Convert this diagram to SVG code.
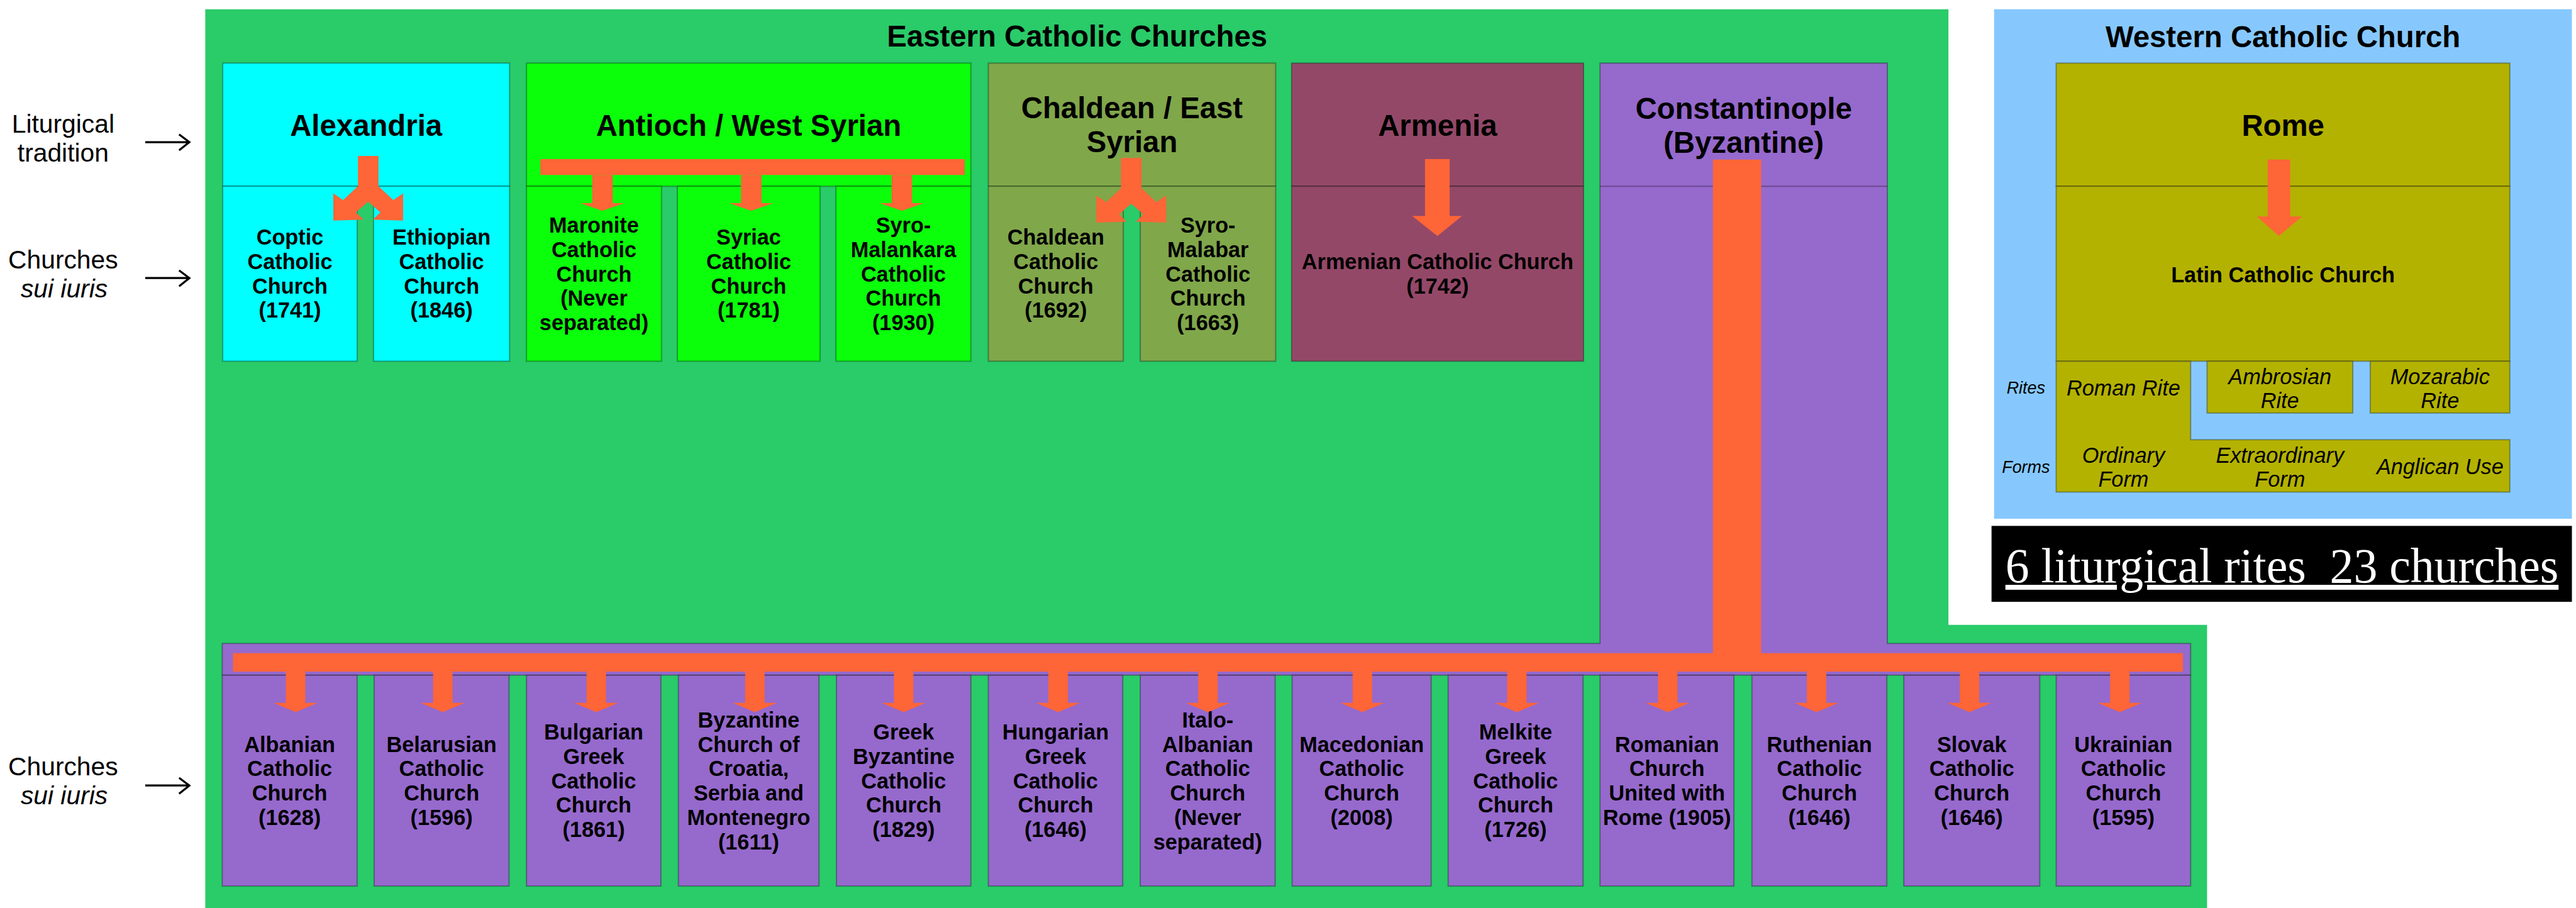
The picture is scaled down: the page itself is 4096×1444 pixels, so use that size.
<svg xmlns="http://www.w3.org/2000/svg" width="4096" height="1444" viewBox="0 0 4096 1444">
<style>
.t{font-family:"Liberation Sans",Arial,sans-serif;font-weight:bold;text-anchor:middle;fill:#000}
.h{font-size:58px}
.c{font-size:42px}
.i{font-family:"Liberation Sans",Arial,sans-serif;font-style:italic;text-anchor:middle;font-size:42px;fill:#000}
.s{font-size:33px}
.lab{font-family:"Liberation Sans",Arial,sans-serif;font-size:50px;text-anchor:middle;fill:#000}
.bx{stroke:#000;stroke-opacity:.3;stroke-width:2.5}
.alex{fill:#00FFFF}.ant{fill:#0BFF0B}.chal{fill:#80A74A}.arm{fill:#944868}.byz{fill:#9669CD}.rome{fill:#B4B200}
.or{fill:#FE6537}
.la{fill:none;stroke:#000;stroke-width:4}
</style>
<defs>
<path id="fork" d="M-20,0 H20 V59 L49,86 L68,73 V126 L9,124 L24,110 L0,89 L-24,110 L-9,124 L-68,126 V73 L-49,86 L-20,59 Z"/>
<path id="dnA" d="M-20,0 H20 V55 H43 L0,70 L-43,55 H-20 Z"/>
<path id="dnB" d="M-19,0 H19 V61 H43 L0,79 L-43,61 H-19 Z"/>
</defs>
<rect width="4096" height="1444" fill="#fff"/>
<g transform="scale(0.81594)">
<g id="eastern">
<path d="M400,18 H3797 V1218 H4301 V1770 H400 Z" fill="#2ACB69"/>
<text class="t h" x="2099" y="91">Eastern Catholic Churches</text>
</g>
<g id="western">
<rect x="3886" y="18" width="1126" height="993" fill="#86C8FE"/>
<text class="t h" x="4449" y="92">Western Catholic Church</text>
<text class="i s" x="3948" y="767">Rites</text>
<text class="i s" x="3948" y="922">Forms</text>
</g>
<g id="legend">
<text class="lab" x="123" y="259">Liturgical</text>
<text class="lab" x="123" y="315">tradition</text>
<path class="la" d="M283,277 H368 M349,262 L369,277 L349,293"/>
<text class="lab" x="123" y="523">Churches</text>
<text class="lab" x="125" y="580" font-style="italic">sui iuris</text>
<path class="la" d="M283,542 H368 M349,527 L369,542 L349,558"/>
<text class="lab" x="123" y="1511">Churches</text>
<text class="lab" x="125" y="1568" font-style="italic">sui iuris</text>
<path class="la" d="M283,1531 H368 M349,1516 L369,1531 L349,1547"/>
</g>
<g id="alexandria">
<rect class="bx alex" x="434" y="123" width="559" height="240"/>
<text class="t h" x="713.5" y="265">Alexandria</text>
</g>
<g id="coptic">
<rect class="bx alex" x="434" y="363" width="262" height="341"/>
<text class="t c" x="565" y="477"><tspan x="565">Coptic</tspan><tspan x="565" dy="47.5">Catholic</tspan><tspan x="565" dy="47.5">Church</tspan><tspan x="565" dy="47.5">(1741)</tspan></text>
</g>
<g id="ethiopian">
<rect class="bx alex" x="728" y="363" width="265" height="341"/>
<text class="t c" x="860.5" y="477"><tspan x="860.5">Ethiopian</tspan><tspan x="860.5" dy="47.5">Catholic</tspan><tspan x="860.5" dy="47.5">Church</tspan><tspan x="860.5" dy="47.5">(1846)</tspan></text>
</g>
<g id="antioch">
<rect class="bx ant" x="1026" y="123" width="866" height="240"/>
<text class="t h" x="1459" y="265">Antioch / West Syrian</text>
</g>
<g id="maronite">
<rect class="bx ant" x="1026" y="363" width="263" height="341"/>
<text class="t c" x="1157.5" y="453.5"><tspan x="1157.5">Maronite</tspan><tspan x="1157.5" dy="47.5">Catholic</tspan><tspan x="1157.5" dy="47.5">Church</tspan><tspan x="1157.5" dy="47.5">(Never</tspan><tspan x="1157.5" dy="47.5">separated)</tspan></text>
</g>
<g id="syriac">
<rect class="bx ant" x="1320" y="363" width="278" height="341"/>
<text class="t c" x="1459" y="477"><tspan x="1459">Syriac</tspan><tspan x="1459" dy="47.5">Catholic</tspan><tspan x="1459" dy="47.5">Church</tspan><tspan x="1459" dy="47.5">(1781)</tspan></text>
</g>
<g id="syromalankara">
<rect class="bx ant" x="1629" y="363" width="263" height="341"/>
<text class="t c" x="1760.5" y="453.5"><tspan x="1760.5">Syro-</tspan><tspan x="1760.5" dy="47.5">Malankara</tspan><tspan x="1760.5" dy="47.5">Catholic</tspan><tspan x="1760.5" dy="47.5">Church</tspan><tspan x="1760.5" dy="47.5">(1930)</tspan></text>
</g>
<g id="chaldean-tradition">
<rect class="bx chal" x="1926" y="123" width="560" height="240"/>
<text class="t h" x="2206" y="230"><tspan x="2206">Chaldean / East</tspan><tspan x="2206" dy="66">Syrian</tspan></text>
</g>
<g id="chaldean">
<rect class="bx chal" x="1926" y="363" width="263" height="341"/>
<text class="t c" x="2057.5" y="477"><tspan x="2057.5">Chaldean</tspan><tspan x="2057.5" dy="47.5">Catholic</tspan><tspan x="2057.5" dy="47.5">Church</tspan><tspan x="2057.5" dy="47.5">(1692)</tspan></text>
</g>
<g id="syromalabar">
<rect class="bx chal" x="2222" y="363" width="264" height="341"/>
<text class="t c" x="2354" y="453.5"><tspan x="2354">Syro-</tspan><tspan x="2354" dy="47.5">Malabar</tspan><tspan x="2354" dy="47.5">Catholic</tspan><tspan x="2354" dy="47.5">Church</tspan><tspan x="2354" dy="47.5">(1663)</tspan></text>
</g>
<g id="armenia">
<rect class="bx arm" x="2517" y="123" width="569" height="240"/>
<text class="t h" x="2801.5" y="265">Armenia</text>
</g>
<g id="armenian">
<rect class="bx arm" x="2517" y="363" width="569" height="341"/>
<text class="t c" x="2801.5" y="524.75"><tspan x="2801.5">Armenian Catholic Church</tspan><tspan x="2801.5" dy="47.5">(1742)</tspan></text>
</g>
<g id="constantinople">
<path class="bx byz" d="M3118,123 H3678 V1254 H4269 V1316 H433 V1254 H3118 Z"/>
<path d="M3118,363 H3678" stroke="#000" stroke-opacity=".3" stroke-width="2.5"/>
<text class="t h" x="3398" y="232"><tspan x="3398">Constantinople</tspan><tspan x="3398" dy="66">(Byzantine)</tspan></text>
</g>
<g id="albanian"><rect class="bx byz" x="433" y="1316" width="263" height="411"/>
<text class="t c" x="564.5" y="1465.25"><tspan x="564.5">Albanian</tspan><tspan x="564.5" dy="47.5">Catholic</tspan><tspan x="564.5" dy="47.5">Church</tspan><tspan x="564.5" dy="47.5">(1628)</tspan></text></g>
<g id="belarusian"><rect class="bx byz" x="729" y="1316" width="263" height="411"/>
<text class="t c" x="860.5" y="1465.25"><tspan x="860.5">Belarusian</tspan><tspan x="860.5" dy="47.5">Catholic</tspan><tspan x="860.5" dy="47.5">Church</tspan><tspan x="860.5" dy="47.5">(1596)</tspan></text></g>
<g id="bulgarian"><rect class="bx byz" x="1026" y="1316" width="262" height="411"/>
<text class="t c" x="1157" y="1441.5"><tspan x="1157">Bulgarian</tspan><tspan x="1157" dy="47.5">Greek</tspan><tspan x="1157" dy="47.5">Catholic</tspan><tspan x="1157" dy="47.5">Church</tspan><tspan x="1157" dy="47.5">(1861)</tspan></text></g>
<g id="croatia"><rect class="bx byz" x="1322" y="1316" width="274" height="411"/>
<text class="t c" x="1459" y="1417.75"><tspan x="1459">Byzantine</tspan><tspan x="1459" dy="47.5">Church of</tspan><tspan x="1459" dy="47.5">Croatia,</tspan><tspan x="1459" dy="47.5">Serbia and</tspan><tspan x="1459" dy="47.5">Montenegro</tspan><tspan x="1459" dy="47.5">(1611)</tspan></text></g>
<g id="greek"><rect class="bx byz" x="1630" y="1316" width="262" height="411"/>
<text class="t c" x="1761" y="1441.5"><tspan x="1761">Greek</tspan><tspan x="1761" dy="47.5">Byzantine</tspan><tspan x="1761" dy="47.5">Catholic</tspan><tspan x="1761" dy="47.5">Church</tspan><tspan x="1761" dy="47.5">(1829)</tspan></text></g>
<g id="hungarian"><rect class="bx byz" x="1926" y="1316" width="262" height="411"/>
<text class="t c" x="2057" y="1441.5"><tspan x="2057">Hungarian</tspan><tspan x="2057" dy="47.5">Greek</tspan><tspan x="2057" dy="47.5">Catholic</tspan><tspan x="2057" dy="47.5">Church</tspan><tspan x="2057" dy="47.5">(1646)</tspan></text></g>
<g id="italoalbanian"><rect class="bx byz" x="2222" y="1316" width="263" height="411"/>
<text class="t c" x="2353.5" y="1417.75"><tspan x="2353.5">Italo-</tspan><tspan x="2353.5" dy="47.5">Albanian</tspan><tspan x="2353.5" dy="47.5">Catholic</tspan><tspan x="2353.5" dy="47.5">Church</tspan><tspan x="2353.5" dy="47.5">(Never</tspan><tspan x="2353.5" dy="47.5">separated)</tspan></text></g>
<g id="macedonian"><rect class="bx byz" x="2518" y="1316" width="271" height="411"/>
<text class="t c" x="2653.5" y="1465.25"><tspan x="2653.5">Macedonian</tspan><tspan x="2653.5" dy="47.5">Catholic</tspan><tspan x="2653.5" dy="47.5">Church</tspan><tspan x="2653.5" dy="47.5">(2008)</tspan></text></g>
<g id="melkite"><rect class="bx byz" x="2822" y="1316" width="263" height="411"/>
<text class="t c" x="2953.5" y="1441.5"><tspan x="2953.5">Melkite</tspan><tspan x="2953.5" dy="47.5">Greek</tspan><tspan x="2953.5" dy="47.5">Catholic</tspan><tspan x="2953.5" dy="47.5">Church</tspan><tspan x="2953.5" dy="47.5">(1726)</tspan></text></g>
<g id="romanian"><rect class="bx byz" x="3118" y="1316" width="261" height="411"/>
<text class="t c" x="3248.5" y="1465.25"><tspan x="3248.5">Romanian</tspan><tspan x="3248.5" dy="47.5">Church</tspan><tspan x="3248.5" dy="47.5">United with</tspan><tspan x="3248.5" dy="47.5">Rome (1905)</tspan></text></g>
<g id="ruthenian"><rect class="bx byz" x="3414" y="1316" width="263" height="411"/>
<text class="t c" x="3545.5" y="1465.25"><tspan x="3545.5">Ruthenian</tspan><tspan x="3545.5" dy="47.5">Catholic</tspan><tspan x="3545.5" dy="47.5">Church</tspan><tspan x="3545.5" dy="47.5">(1646)</tspan></text></g>
<g id="slovak"><rect class="bx byz" x="3710" y="1316" width="265" height="411"/>
<text class="t c" x="3842.5" y="1465.25"><tspan x="3842.5">Slovak</tspan><tspan x="3842.5" dy="47.5">Catholic</tspan><tspan x="3842.5" dy="47.5">Church</tspan><tspan x="3842.5" dy="47.5">(1646)</tspan></text></g>
<g id="ukrainian"><rect class="bx byz" x="4007" y="1316" width="262" height="411"/>
<text class="t c" x="4138" y="1465.25"><tspan x="4138">Ukrainian</tspan><tspan x="4138" dy="47.5">Catholic</tspan><tspan x="4138" dy="47.5">Church</tspan><tspan x="4138" dy="47.5">(1595)</tspan></text></g>
<g id="rome">
<rect class="bx rome" x="4007" y="123" width="884" height="240"/>
<text class="t h" x="4449" y="265">Rome</text>
</g>
<g id="latin">
<rect class="bx rome" x="4007" y="363" width="884" height="341"/>
<text class="t c" x="4449" y="550">Latin Catholic Church</text>
</g>
<g id="roman-rite">
<path class="bx rome" d="M4007,704 H4269 V857 H4891 V959 H4007 Z"/>
<text class="i" x="4138" y="771">Roman Rite</text>
<text class="i" x="4138" y="902"><tspan x="4138">Ordinary</tspan><tspan x="4138" dy="46.5">Form</tspan></text>
<text class="i" x="4443" y="902"><tspan x="4443">Extraordinary</tspan><tspan x="4443" dy="46.5">Form</tspan></text>
<text class="i" x="4755" y="924">Anglican Use</text>
</g>
<g id="ambrosian">
<rect class="bx rome" x="4301" y="704" width="284" height="101"/>
<text class="i" x="4443" y="749"><tspan x="4443">Ambrosian</tspan><tspan x="4443" dy="47">Rite</tspan></text>
</g>
<g id="mozarabic">
<rect class="bx rome" x="4619" y="704" width="272" height="101"/>
<text class="i" x="4755" y="749"><tspan x="4755">Mozarabic</tspan><tspan x="4755" dy="47">Rite</tspan></text>
</g>
<g id="summary">
<rect x="3881" y="1025" width="1131" height="148" fill="#000"/>
<text x="3908" y="1135" xml:space="preserve" font-family="'Liberation Serif','Times New Roman',serif" font-size="96" fill="#fff" text-decoration="underline" textLength="1078" lengthAdjust="spacingAndGlyphs">6 liturgical rites  23 churches</text>
</g>
<g id="connectors" class="or">
<use href="#fork" x="717.5" y="304"/>
<use href="#fork" x="2204.5" y="308"/>
<rect x="1053" y="310" width="827" height="31"/>
<use href="#dnA" x="1174" y="341"/>
<use href="#dnA" x="1464" y="341"/>
<use href="#dnA" x="1757.5" y="341"/>
<path d="M2777,310 H2825 V421 H2849 L2801,460 L2752,421 H2777 Z"/>
<path d="M4419,311 H4463 V422 H4486 L4441,460 L4398,422 H4419 Z"/>
<rect x="3338" y="311" width="94" height="980"/>
<rect x="454" y="1273" width="3800" height="36"/>
<use href="#dnB" x="576" y="1309"/>
<use href="#dnB" x="863" y="1309"/>
<use href="#dnB" x="1162" y="1309"/>
<use href="#dnB" x="1471" y="1309"/>
<use href="#dnB" x="1761" y="1309"/>
<use href="#dnB" x="2062" y="1309"/>
<use href="#dnB" x="2354" y="1309"/>
<use href="#dnB" x="2655" y="1309"/>
<use href="#dnB" x="2956" y="1309"/>
<use href="#dnB" x="3250" y="1309"/>
<use href="#dnB" x="3540" y="1309"/>
<use href="#dnB" x="3838" y="1309"/>
<use href="#dnB" x="4131" y="1309"/>
</g>
</g>
</svg>
